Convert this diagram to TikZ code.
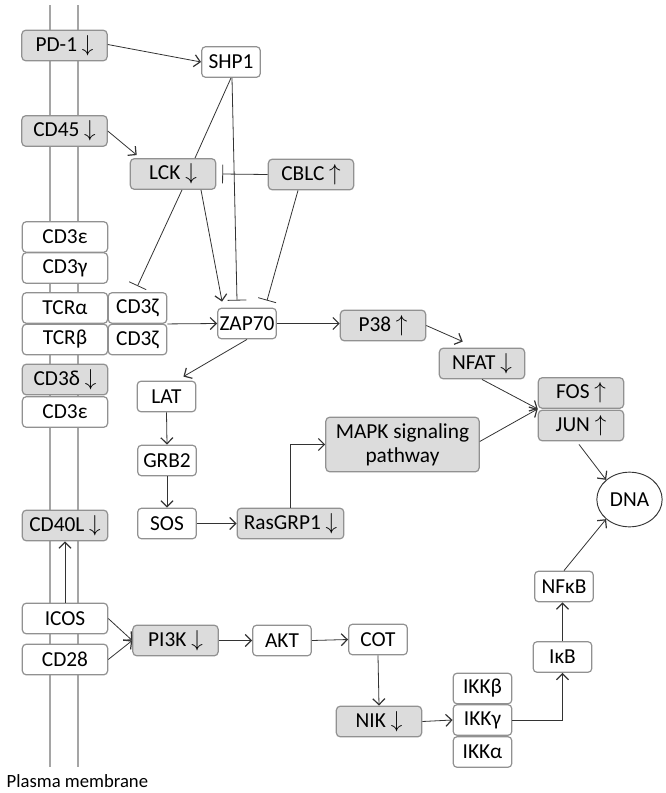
\documentclass[tikz,border=0pt]{standalone}
\usepackage{fontspec}
\setmainfont{Carlito}
\usetikzlibrary{arrows.meta,shapes.geometric,calc}
\definecolor{boxgray}{RGB}{220,220,220}
\definecolor{linegray}{RGB}{145,145,145}
\definecolor{membgray}{RGB}{165,165,165}
\newcommand{\dnar}{\ $\downarrow$}
\newcommand{\upar}{\ $\uparrow$}
\begin{document}
\begin{tikzpicture}[x=0.75pt,y=-0.75pt,
  box/.style={draw=linegray, line width=0.9pt, rounded corners=3pt, fill=white, minimum height=23pt, inner sep=1pt, font=\fontsize{16}{18}\selectfont},
  sbox/.style={box, minimum width=44pt},
  wbox/.style={box, minimum width=64pt},
  gbox/.style={wbox, fill=boxgray},
  lnk/.style={draw=black!80, line width=0.6pt},
  act/.style={lnk, -{Straight Barb[length=4.5pt,width=9pt,line width=0.9pt]}},
  inh/.style={lnk, -{Bar[width=14pt]}}]
\useasboundingbox (0,0) rectangle (666,793);
\draw[membgray, line width=2.2pt] (50,5) -- (50,767);
\draw[membgray, line width=2.2pt] (78,5) -- (78,767);
\node[anchor=west, font=\fontsize{14}{16}\selectfont] (memb) at (2,781) {Plasma membrane};

\node[gbox] (pd1) at (64.5,45.5) {PD-1\dnar};
\node[sbox] (shp1) at (231,62) {SHP1};
\node[gbox] (cd45) at (64.5,131) {CD45\dnar};
\node[gbox] (lck) at (173,174) {LCK\dnar};
\node[gbox] (cblc) at (311,174.5) {CBLC\upar};
\node[wbox] (cd3e) at (65,237) {CD3ε};
\node[wbox] (cd3g) at (65,268) {CD3γ};
\node[wbox] (tcra) at (65,308) {TCRα};
\node[wbox] (tcrb) at (65,339.5) {TCRβ};
\node[sbox] (zetaa) at (137.5,308) {CD3ζ};
\node[sbox] (zetab) at (137.5,339.5) {CD3ζ};
\node[sbox] (zap70) at (247,323.5) {ZAP70};
\node[gbox] (p38) at (383,325.5) {P38\upar};
\node[gbox] (cd3d) at (65,379.5) {CD3δ\dnar};
\node[wbox] (cd3ee) at (65,412) {CD3ε};
\node[sbox] (lat) at (166.5,396.5) {LAT};
\node[gbox] (nfat) at (482,363.5) {NFAT\dnar};
\node[gbox] (fos) at (581,393) {FOS\upar};
\node[gbox] (jun) at (581,425.5) {JUN\upar};
\node[box, fill=boxgray, minimum width=115pt, minimum height=41pt, align=center] (mapk) at (402.5,444.5) {MAPK signaling\\pathway};
\node[draw=black!80, line width=0.7pt, ellipse, minimum width=49pt, minimum height=41pt, inner sep=0pt, font=\fontsize{16}{18}\selectfont] (dna) at (629.5,499.5) {DNA};
\node[sbox] (grb2) at (167,460.5) {GRB2};
\node[sbox] (sos) at (167,523.5) {SOS};
\node[gbox, minimum width=80pt] (rasgrp1) at (290.5,523.5) {RasGRP1\dnar};
\node[gbox] (cd40l) at (65,525.5) {CD40L\dnar};
\node[wbox] (icos) at (65,618.5) {ICOS};
\node[wbox] (cd28) at (65,659.5) {CD28};
\node[gbox] (pi3k) at (175.5,640.5) {PI3K\dnar};
\node[sbox] (akt) at (282,640.5) {AKT};
\node[sbox] (cot) at (378,639.5) {COT};
\node[gbox] (nik) at (379,721.5) {NIK\dnar};
\node[sbox] (ikkb) at (482.5,688.5) {IKKβ};
\node[sbox] (ikkg) at (482.5,720) {IKKγ};
\node[sbox] (ikka) at (482.5,752) {IKKα};
\node[sbox] (ikb) at (562.5,657) {IκB};
\node[sbox] (nfkb) at (564,586.5) {NFκB};

\draw[act] ($(pd1.east)+(0,-1)$) -- (shp1.west);
\draw[lnk] (shp1.south) -- ($(lck.north)+(22,0)$);
\draw[inh] ($(shp1.south)+(1,0)$) -- ($(zap70.north)+(-10,-7)$);
\draw[act] (cd45.east) -- ($(lck.north west)+(7,-3)$);
\draw[inh] (cblc.west) -- ($(lck.east)+(6,0)$);
\draw[inh] ($(cblc.south)+(-13,0)$) -- ($(zap70.north)+(20,-7)$);
\draw[inh] ($(lck.south)+(9,0)$) -- ($(zetaa.north)+(0,-6)$);
\draw[act] ($(lck.south)+(28,0)$) -- ($(zap70.north west)+(5,-6)$);
\draw[act] (zetaa.south east) -- (zap70.west);
\draw[act] (zap70.east) -- (zap70.east -| p38.west);
\draw[act] (zap70.south) -- ($(lat.north east)+(-13,-4)$);
\draw[act] (lat.south) -- (grb2.north);
\draw[act] (grb2.south) -- (sos.north);
\draw[act] (sos.east) -- (rasgrp1.west);
\draw[act] (rasgrp1.north) |- (mapk.west);
\draw[act] (p38.east) -- ($(nfat.north west)+(24,-6)$);
\draw[act] (nfat.south) -- (fos.south west);
\draw[act] ($(mapk.east)+(0,-3)$) -- (fos.south west);
\draw[act] ($(jun.south)+(-2,3)$) -- (dna.north west);
\draw[act] (nfkb.north) -- (dna.south west);
\draw[act] (ikb.north) -- (ikb.north |- nfkb.south);
\draw[act] (ikkg.east) -| (ikb.south);
\draw[act] (nik.east) -- (ikkg.west);
\draw[act] (cot.south) -- (nik.north);
\draw[act] (akt.east) -- (cot.west);
\draw[act] (pi3k.east) -- (akt.west);
\draw[act] (icos.east) -- (pi3k.west);
\draw[act] (cd28.east) -- (pi3k.west);
\draw[act] (icos.north) -- (cd40l.south);
\end{tikzpicture}
\end{document}
